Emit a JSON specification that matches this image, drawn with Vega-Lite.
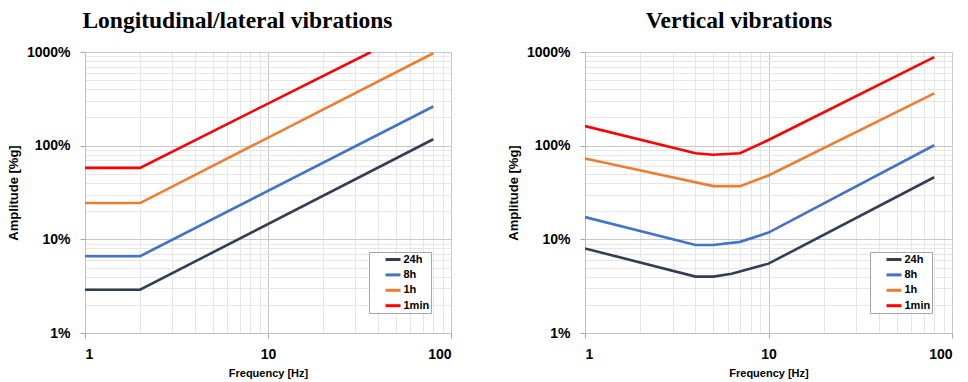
{
  "$schema": "https://vega.github.io/schema/vega-lite/v6.json",
  "padding": {"left": 6, "top": 8, "right": 0, "bottom": 0},
  "background": "white",
  "datasets": {
    "lat": [
      {"f": 1, "a": 2.9, "d": "24h"}, {"f": 2, "a": 2.9, "d": "24h"}, {"f": 80, "a": 117, "d": "24h"},
      {"f": 1, "a": 6.6, "d": "8h"}, {"f": 2, "a": 6.6, "d": "8h"}, {"f": 80, "a": 262, "d": "8h"},
      {"f": 1, "a": 24.4, "d": "1h"}, {"f": 2, "a": 24.4, "d": "1h"}, {"f": 80, "a": 970, "d": "1h"},
      {"f": 1, "a": 58, "d": "1min"}, {"f": 2, "a": 58, "d": "1min"}, {"f": 36.5, "a": 1000, "d": "1min"}
    ],
    "vert": [
      {"f": 1, "a": 8.0, "d": "24h"}, {"f": 4, "a": 4.0, "d": "24h"}, {"f": 5, "a": 4.0, "d": "24h"}, {"f": 6.3, "a": 4.3, "d": "24h"}, {"f": 10, "a": 5.5, "d": "24h"}, {"f": 80, "a": 46, "d": "24h"},
      {"f": 1, "a": 17.3, "d": "8h"}, {"f": 4, "a": 8.7, "d": "8h"}, {"f": 5, "a": 8.7, "d": "8h"}, {"f": 7, "a": 9.4, "d": "8h"}, {"f": 10, "a": 11.8, "d": "8h"}, {"f": 80, "a": 101, "d": "8h"},
      {"f": 1, "a": 73, "d": "1h"}, {"f": 5, "a": 37, "d": "1h"}, {"f": 7, "a": 37, "d": "1h"}, {"f": 10, "a": 48, "d": "1h"}, {"f": 80, "a": 361, "d": "1h"},
      {"f": 1, "a": 162, "d": "1min"}, {"f": 4, "a": 83, "d": "1min"}, {"f": 5, "a": 80, "d": "1min"}, {"f": 7, "a": 83, "d": "1min"}, {"f": 10, "a": 115, "d": "1min"}, {"f": 80, "a": 880, "d": "1min"}
    ]
  },
  "config": {
    "view": {"stroke": "#bfbfbf", "strokeWidth": 1},
    "font": "Liberation Sans",
    "title": {"font": "Liberation Serif", "fontSize": 23.5, "fontWeight": "bold", "color": "#000000", "anchor": "middle", "frame": "bounds", "offset": 13},
    "axis": {
      "domainColor": "#bfbfbf",
      "tickColor": "#a6a6a6",
      "labelFont": "Liberation Sans",
      "labelFontWeight": "bold",
      "labelFontSize": 14,
      "labelColor": "#000000",
      "titleFont": "Liberation Sans",
      "titleFontWeight": "bold",
      "titleColor": "#000000",
      "labelOverlap": false,
      "gridWidth": 1
    },
    "legend": {
      "labelFont": "Liberation Sans",
      "labelFontWeight": "bold",
      "labelFontSize": 11,
      "labelColor": "#000000",
      "symbolType": "M-1.5,0L1.5,0",
      "symbolStrokeWidth": 3,
      "symbolSize": 100,
      "labelOffset": 4,
      "rowPadding": 2.4,
      "strokeColor": "#a6a6a6",
      "fillColor": "white",
      "padding": 1,
      "symbolOffset": 16.5,
      "orient": "bottom-right",
      "offset": 20,
      "title": null
    }
  },
  "resolve": {"scale": {"color": "independent"}, "legend": {"color": "independent"}},
  "spacing": 54,
  "hconcat": [
    {
      "title": {"text": "Longitudinal/lateral vibrations", "dx": 8},
      "width": 366,
      "height": 281,
      "data": {"name": "lat"},
      "mark": {"type": "line", "strokeWidth": 2.6, "clip": true},
      "encoding": {
        "x": {
          "field": "f", "type": "quantitative",
          "scale": {"type": "log", "domain": [1, 100], "nice": false},
          "axis": {
            "title": "Frequency [Hz]", "titleFontSize": 11, "titlePadding": 6,
            "values": [1, 2, 3, 4, 5, 6, 7, 8, 9, 10, 20, 30, 40, 50, 60, 70, 80, 90, 100],
            "labelExpr": "indexof([1,10,100], datum.value) >= 0 ? datum.value : ''",
            "labelPadding": 9,
            "tickSize": {"condition": {"test": "indexof([1,10,100], datum.value) >= 0", "value": 5}, "value": 0},
            "gridColor": {"condition": {"test": "indexof([1,10,100], datum.value) >= 0", "value": "#c8c8c8"}, "value": "#e6e6e6"}
          }
        },
        "y": {
          "field": "a", "type": "quantitative",
          "scale": {"type": "log", "domain": [1, 1000], "nice": false},
          "axis": {
            "title": "Amplitude [%g]", "titleFontSize": 13, "titlePadding": 6,
            "values": [1, 2, 3, 4, 5, 6, 7, 8, 9, 10, 20, 30, 40, 50, 60, 70, 80, 90, 100, 200, 300, 400, 500, 600, 700, 800, 900, 1000],
            "labelExpr": "indexof([1,10,100,1000], datum.value) >= 0 ? datum.value + '%' : ''",
            "labelPadding": 10,
            "tickSize": {"condition": {"test": "indexof([1,10,100,1000], datum.value) >= 0", "value": 5}, "value": 0},
            "gridColor": {"condition": {"test": "indexof([1,10,100,1000], datum.value) >= 0", "value": "#c8c8c8"}, "value": "#e6e6e6"}
          }
        },
        "color": {
          "field": "d", "type": "nominal",
          "scale": {"domain": ["24h", "8h", "1h", "1min"], "range": ["#333f50", "#4472c4", "#ed7d31", "#ff0000"]},
          "legend": {"title": null}
        }
      }
    },
    {
      "title": {"text": "Vertical vibrations", "dx": 9},
      "width": 367,
      "height": 281,
      "data": {"name": "vert"},
      "mark": {"type": "line", "strokeWidth": 2.6, "clip": true},
      "encoding": {
        "x": {
          "field": "f", "type": "quantitative",
          "scale": {"type": "log", "domain": [1, 100], "nice": false},
          "axis": {
            "title": "Frequency [Hz]", "titleFontSize": 11, "titlePadding": 6,
            "values": [1, 2, 3, 4, 5, 6, 7, 8, 9, 10, 20, 30, 40, 50, 60, 70, 80, 90, 100],
            "labelExpr": "indexof([1,10,100], datum.value) >= 0 ? datum.value : ''",
            "labelPadding": 9,
            "tickSize": {"condition": {"test": "indexof([1,10,100], datum.value) >= 0", "value": 5}, "value": 0},
            "gridColor": {"condition": {"test": "indexof([1,10,100], datum.value) >= 0", "value": "#c8c8c8"}, "value": "#e6e6e6"}
          }
        },
        "y": {
          "field": "a", "type": "quantitative",
          "scale": {"type": "log", "domain": [1, 1000], "nice": false},
          "axis": {
            "title": "Amplitude [%g]", "titleFontSize": 13, "titlePadding": 6,
            "values": [1, 2, 3, 4, 5, 6, 7, 8, 9, 10, 20, 30, 40, 50, 60, 70, 80, 90, 100, 200, 300, 400, 500, 600, 700, 800, 900, 1000],
            "labelExpr": "indexof([1,10,100,1000], datum.value) >= 0 ? datum.value + '%' : ''",
            "labelPadding": 10,
            "tickSize": {"condition": {"test": "indexof([1,10,100,1000], datum.value) >= 0", "value": 5}, "value": 0},
            "gridColor": {"condition": {"test": "indexof([1,10,100,1000], datum.value) >= 0", "value": "#c8c8c8"}, "value": "#e6e6e6"}
          }
        },
        "color": {
          "field": "d", "type": "nominal",
          "scale": {"domain": ["24h", "8h", "1h", "1min"], "range": ["#333f50", "#4472c4", "#ed7d31", "#ff0000"]},
          "legend": {"title": null}
        }
      }
    }
  ]
}
